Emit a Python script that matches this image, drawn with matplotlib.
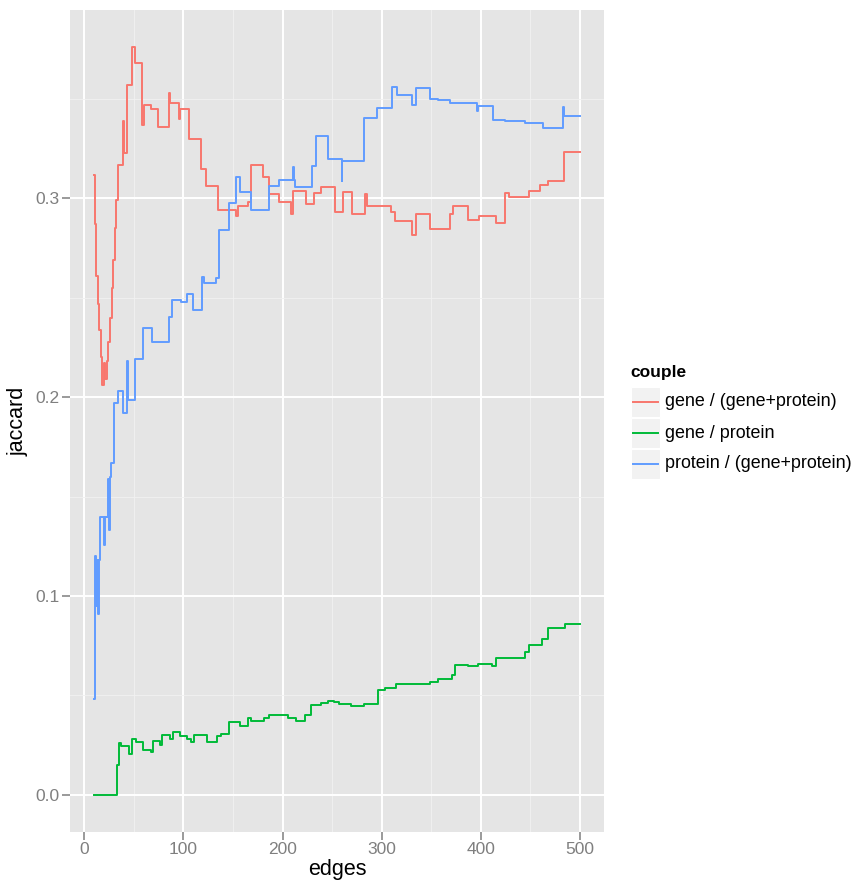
import matplotlib
matplotlib.use('Agg')
import matplotlib.pyplot as plt
from matplotlib.lines import Line2D
from matplotlib.patches import Rectangle

plt.rcParams['font.family'] = ['Liberation Sans', 'DejaVu Sans']

# Step change points (edges, jaccard) for each couple
red_x = [10, 11, 12, 14, 15, 17, 18, 20, 21, 23, 24, 26, 28, 29, 31, 32, 34, 39, 40, 43,
         48, 51, 58, 60, 67, 74, 85, 86, 96, 97, 106, 118, 123, 135, 153, 155, 157, 165,
         168, 180, 186, 196, 209, 211, 224, 232, 239, 253, 261, 270, 283, 285, 303, 310,
         314, 331, 335, 349, 369, 372, 387, 398, 415, 425, 429, 449, 460, 468, 484, 500]
red_y = [0.312, 0.287, 0.261, 0.247, 0.234, 0.220, 0.206, 0.217, 0.209, 0.218, 0.228,
         0.240, 0.255, 0.269, 0.285, 0.299, 0.317, 0.339, 0.323, 0.357, 0.376, 0.368,
         0.337, 0.347, 0.345, 0.336, 0.353, 0.348, 0.340, 0.345, 0.330, 0.315, 0.306,
         0.294, 0.291, 0.296, 0.296, 0.298, 0.317, 0.311, 0.302, 0.298, 0.292, 0.3035,
         0.297, 0.3026, 0.3057, 0.293, 0.303, 0.292, 0.302, 0.296, 0.2963, 0.293, 0.2885,
         0.2817, 0.292, 0.2848, 0.2922, 0.296, 0.289, 0.291, 0.2877, 0.3026, 0.3006,
         0.3035, 0.3065, 0.3087, 0.3233, 0.3233]

green_x = [10, 33, 34.6, 37, 40, 44.7, 48, 52.6, 59.5, 67.5, 69, 76, 78, 86, 89, 96.5,
           104, 108, 110.2, 123.3, 133.4, 138.4, 146.2, 157, 165.3, 168, 181, 186, 195.9,
           206, 213.4, 222.8, 229, 238.6, 246.3, 252, 257, 269, 282.2, 296, 303, 315,
           348.5, 357, 371.5, 373.7, 386.8, 397, 411, 415, 444.7, 448.6, 462, 467.8, 485, 500]
green_y = [0.0, 0.0147, 0.026, 0.0246, 0.0243, 0.0206, 0.028, 0.0264, 0.0226, 0.0214,
           0.0271, 0.025, 0.0298, 0.028, 0.0313, 0.0296, 0.028, 0.0263, 0.0298, 0.0264,
           0.0293, 0.0307, 0.0365, 0.0343, 0.0388, 0.0368, 0.0385, 0.0402, 0.04, 0.0385,
           0.0368, 0.0402, 0.0452, 0.046, 0.0472, 0.0464, 0.0456, 0.0444, 0.0454, 0.0528,
           0.0536, 0.0558, 0.0566, 0.0583, 0.06, 0.0653, 0.0645, 0.0658, 0.0645, 0.0685,
           0.0719, 0.0752, 0.0782, 0.0836, 0.0861, 0.0861]

blue_x = [10, 11, 12, 13, 14, 15, 16, 20, 21, 24, 25, 26, 27, 30, 34, 39, 43, 44, 51, 59,
          68, 85, 88, 98, 104, 110, 119, 121, 133, 136, 146, 153, 157, 168, 186, 196, 211,
          212, 213, 229.5, 233.6, 246.3, 259.8, 260.5, 282.3, 295, 310.8, 316, 331, 335,
          348.5, 357, 369, 396.5, 397.5, 412.3, 425, 444.6, 463, 483, 484, 500]
blue_y = [0.048, 0.120, 0.095, 0.118, 0.091, 0.118, 0.1395, 0.1256, 0.1395, 0.159, 0.133,
          0.160, 0.167, 0.197, 0.203, 0.192, 0.218, 0.1985, 0.219, 0.2348, 0.2275, 0.2404,
          0.249, 0.2479, 0.2518, 0.244, 0.2605, 0.2574, 0.26, 0.2839, 0.2977, 0.311, 0.303,
          0.2943, 0.306, 0.3094, 0.316, 0.3094, 0.3057, 0.3162, 0.3312, 0.3196, 0.309,
          0.3186, 0.3403, 0.3453, 0.3563, 0.3518, 0.3472, 0.3554, 0.35, 0.3495, 0.348,
          0.344, 0.3464, 0.3397, 0.3392, 0.338, 0.3353, 0.3462, 0.3417, 0.3417]

labels = ['gene / (gene+protein)', 'gene / protein', 'protein / (gene+protein)']
colors = ['#F8766D', '#00BA38', '#619CFF']

W, H = 856, 885
fig = plt.figure(figsize=(W / 100, H / 100), dpi=100)
ax = fig.add_axes([70 / W, 1 - 832 / H, 534 / W, 822 / H])
ax.set_facecolor('#E5E5E5')

for xs, ys, c in zip([red_x, green_x, blue_x], [red_y, green_y, blue_y], colors):
    ax.step(xs, ys, where='post', color=c, lw=1.4, zorder=3)

ax.set_xlim(-14.5, 524.5)
ax.set_ylim(-0.0188, 0.3948)
ax.set_xticks([0, 100, 200, 300, 400, 500])
ax.set_yticks([0.0, 0.1, 0.2, 0.3])
ax.set_yticklabels(['0.0', '0.1', '0.2', '0.3'])
ax.set_xticks([50, 150, 250, 350, 450], minor=True)
ax.set_yticks([0.05, 0.15, 0.25, 0.35], minor=True)
ax.grid(which='major', color='white', lw=1.4)
ax.grid(which='minor', color='#F2F2F2', lw=0.6)
ax.set_axisbelow(True)
for s in ax.spines.values():
    s.set_visible(False)
ax.tick_params(which='major', length=5.5, width=1.1, color='#7F7F7F',
               labelcolor='#7F7F7F', labelsize=12.5, pad=2)
ax.tick_params(which='minor', length=0)
ax.set_xlabel('edges', fontsize=15.5, labelpad=1)
ax.set_ylabel('jaccard', fontsize=15.5, labelpad=5)

# legend drawn in pixel coordinates
def fx(px):
    return px / W

def fy(py):
    return 1 - py / H

fig.text(fx(630), fy(372), 'couple', fontsize=12.5, fontweight='bold', va='center')
for i, (lab, c) in enumerate(zip(labels, colors)):
    top = 387 + i * 31
    fig.add_artist(Rectangle((fx(631), fy(top + 30)), 29 / W, 30 / H,
                             transform=fig.transFigure, facecolor='#F2F2F2',
                             edgecolor='white', lw=0.8))
    fig.add_artist(Line2D([fx(633), fx(658)], [fy(top + 15)] * 2,
                          transform=fig.transFigure, color=c, lw=1.4))
    fig.text(fx(665), fy(top + 15), lab, fontsize=12.9, va='center')

fig.savefig('out.png', dpi=100)
